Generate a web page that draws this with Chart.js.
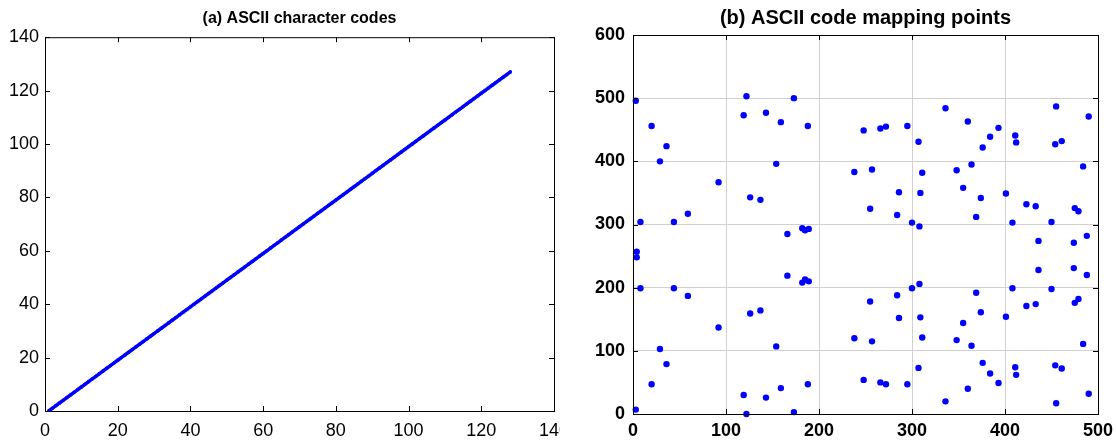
<!DOCTYPE html>
<html>
<head>
<meta charset="utf-8">
<script src="https://cdn.jsdelivr.net/npm/chart.js@4.4.1/dist/chart.umd.min.js"></script>
<style>
  html, body { margin: 0; padding: 0; background: #fff; }
  #wrap { position: relative; width: 1116px; height: 443px; overflow: hidden; }
  .box { position: absolute; top: 0; height: 443px; }
  #leftBox { left: 0; width: 560px; }
  #rightBox { left: 560px; width: 556px; }
</style>
</head>
<body>
<div id="wrap">
  <div class="box" id="leftBox"><canvas id="codesChart"></canvas></div>
  <div class="box" id="rightBox"><canvas id="mappingChart"></canvas></div>
</div>
<script>
// (a) character index and its ASCII code
const charIndex = [1,2,3,4,5,6,7,8,9,10,11,12,13,14,15,16,17,18,19,20,21,22,23,24,25,26,27,28,29,30,31,32,
  33,34,35,36,37,38,39,40,41,42,43,44,45,46,47,48,49,50,51,52,53,54,55,56,57,58,59,60,61,62,63,64,
  65,66,67,68,69,70,71,72,73,74,75,76,77,78,79,80,81,82,83,84,85,86,87,88,89,90,91,92,93,94,95,96,
  97,98,99,100,101,102,103,104,105,106,107,108,109,110,111,112,113,114,115,116,117,118,119,120,121,122,123,124,125,126,127,128];
const asciiCode = [0,1,2,3,4,5,6,7,8,9,10,11,12,13,14,15,16,17,18,19,20,21,22,23,24,25,26,27,28,29,30,31,
  32,33,34,35,36,37,38,39,40,41,42,43,44,45,46,47,48,49,50,51,52,53,54,55,56,57,58,59,60,61,62,63,
  64,65,66,67,68,69,70,71,72,73,74,75,76,77,78,79,80,81,82,83,84,85,86,87,88,89,90,91,92,93,94,95,
  96,97,98,99,100,101,102,103,104,105,106,107,108,109,110,111,112,113,114,115,116,117,118,119,120,121,122,123,124,125,126,127];

// (b) mapped points
const mapX = [3,20,36,29,92,126,137,8,44,59,119,122,143,159,173,188,154,182,185,189,
  248,238,255,266,272,295,336,360,393,384,376,411,412,455,490,454,461,307,257,311,
  348,364,484,286,309,355,374,401,423,433,475,479,284,369,300,308,408,450,
  4,4,8,44,59,29,36,20,3,92,126,137,154,119,122,143,159,173,188,166,166,182,185,189,
  238,248,255,436,474,488,436,474,488,300,308,408,450,284,369,374,401,423,433,475,479,
  286,309,355,257,311,348,364,484,376,384,393,411,412,454,461,307,266,272,295,360,336,455,490];
const mapY = [496,456,424,400,367,343,339,304,304,317,473,503,477,462,500,456,396,294,291,293,
  449,383,325,452,455,456,484,463,453,439,422,441,430,487,471,427,432,431,387,382,
  386,395,392,351,350,358,342,349,332,329,326,321,315,312,303,297,303,304,
  257,248,199,199,187,103,79,47,7,137,159,164,107,30,0,26,41,3,47,285,219,208,213,210,
  120,54,178,274,271,282,228,231,220,199,206,199,198,188,192,161,154,171,174,176,182,
  152,153,144,115,121,117,108,111,81,64,49,74,62,77,72,73,50,47,47,40,20,17,32];

const axisTicksA = [0,20,40,60,80,100,120,140];
const xTicksB = [0,100,200,300,400,500];
const yTicksB = [0,100,200,300,400,500,600];

const labelFont = "'Liberation Sans', Arial, sans-serif";

// box around plot area + short ticks pointing inward (MATLAB look)
const boxTicks = {
  id: 'boxTicks',
  afterDraw(chart) {
    const { ctx, chartArea: a, scales } = chart;
    ctx.save();
    ctx.strokeStyle = '#000';
    ctx.lineWidth = 1;
    ctx.strokeRect(a.left + 0.5, a.top + 0.5, a.right - a.left, a.bottom - a.top);
    ctx.beginPath();
    scales.x.ticks.forEach(t => {
      const px = Math.round(scales.x.getPixelForValue(t.value)) + 0.5;
      ctx.moveTo(px, a.bottom); ctx.lineTo(px, a.bottom - 5);
      ctx.moveTo(px, a.top); ctx.lineTo(px, a.top + 5);
    });
    scales.y.ticks.forEach(t => {
      const py = Math.round(scales.y.getPixelForValue(t.value)) + 0.5;
      ctx.moveTo(a.left, py); ctx.lineTo(a.left + 5, py);
      ctx.moveTo(a.right, py); ctx.lineTo(a.right - 5, py);
    });
    ctx.stroke();
    ctx.restore();
  }
};

function fixTicks(values) {
  return function(scale) {
    scale.ticks = values.map(v => ({ value: v }));
  };
}

Chart.defaults.animation = false;
Chart.defaults.color = '#000';

const codesData = charIndex.map((x, i) => ({ x: x, y: asciiCode[i] }));

new Chart(document.getElementById('codesChart'), {
  type: 'scatter',
  data: {
    datasets: [{
      data: codesData,
      showLine: true,
      borderColor: '#0000ff',
      backgroundColor: '#0000ff',
      borderWidth: 3.5,
      pointRadius: 1.8,
      pointBorderWidth: 0
    }]
  },
  options: {
    responsive: true,
    maintainAspectRatio: false,
    layout: { padding: { left: 0, right: 6, top: 0, bottom: 0 } },
    plugins: {
      legend: { display: false },
      tooltip: { enabled: false },
      title: {
        display: true,
        fullSize: false,
        text: '(a) ASCII character codes',
        color: '#000',
        font: { family: "'Liberation Sans Narrow', 'Arial Narrow', " + labelFont, size: 16, weight: 'bold', lineHeight: 1.2 },
        padding: { top: 9, bottom: 9 }
      }
    },
    scales: {
      x: {
        type: 'linear', min: 0, max: 140,
        afterBuildTicks: fixTicks(axisTicksA),
        grid: { display: false, drawTicks: false },
        border: { display: false },
        ticks: { font: { family: labelFont, size: 18 }, padding: 9, maxRotation: 0 },
        afterFit(scale) { scale.height = 32; scale.paddingLeft = 0; scale.paddingRight = 0; }
      },
      y: {
        type: 'linear', min: 0, max: 140,
        afterBuildTicks: fixTicks(axisTicksA),
        grid: { display: false, drawTicks: false },
        border: { display: false },
        ticks: { font: { family: labelFont, size: 18 }, padding: 6 },
        afterFit(scale) { scale.width = 45; scale.paddingTop = 0; scale.paddingBottom = 0; }
      }
    }
  },
  plugins: [boxTicks]
});

const mapData = mapX.map((x, i) => ({ x: x, y: mapY[i] }));

new Chart(document.getElementById('mappingChart'), {
  type: 'scatter',
  data: {
    datasets: [{
      data: mapData,
      borderColor: '#0000ff',
      backgroundColor: '#0000ff',
      pointRadius: 3.2,
      pointBorderWidth: 0,
      clip: false
    }]
  },
  options: {
    responsive: true,
    maintainAspectRatio: false,
    layout: { padding: { left: 0, right: 18, top: 0, bottom: 0 } },
    plugins: {
      legend: { display: false },
      tooltip: { enabled: false },
      title: {
        display: true,
        fullSize: false,
        text: '(b) ASCII code mapping points',
        color: '#000',
        font: { family: labelFont, size: 20, weight: 'bold', lineHeight: 1.2 },
        padding: { top: 6, bottom: 5 }
      }
    },
    scales: {
      x: {
        type: 'linear', min: 0, max: 500,
        afterBuildTicks: fixTicks(xTicksB),
        grid: { color: '#d0d0d0', drawTicks: false },
        border: { display: false },
        ticks: { font: { family: labelFont, size: 18, weight: 'bold' }, padding: 6, maxRotation: 0 },
        afterFit(scale) { scale.height = 29; scale.paddingLeft = 0; scale.paddingRight = 0; }
      },
      y: {
        type: 'linear', min: 0, max: 600,
        afterBuildTicks: fixTicks(yTicksB),
        grid: { color: '#d0d0d0', drawTicks: false },
        border: { display: false },
        ticks: { font: { family: labelFont, size: 18, weight: 'bold' }, padding: 8 },
        afterFit(scale) { scale.width = 73; scale.paddingTop = 0; scale.paddingBottom = 0; }
      }
    }
  },
  plugins: [boxTicks]
});
</script>
</body>
</html>
